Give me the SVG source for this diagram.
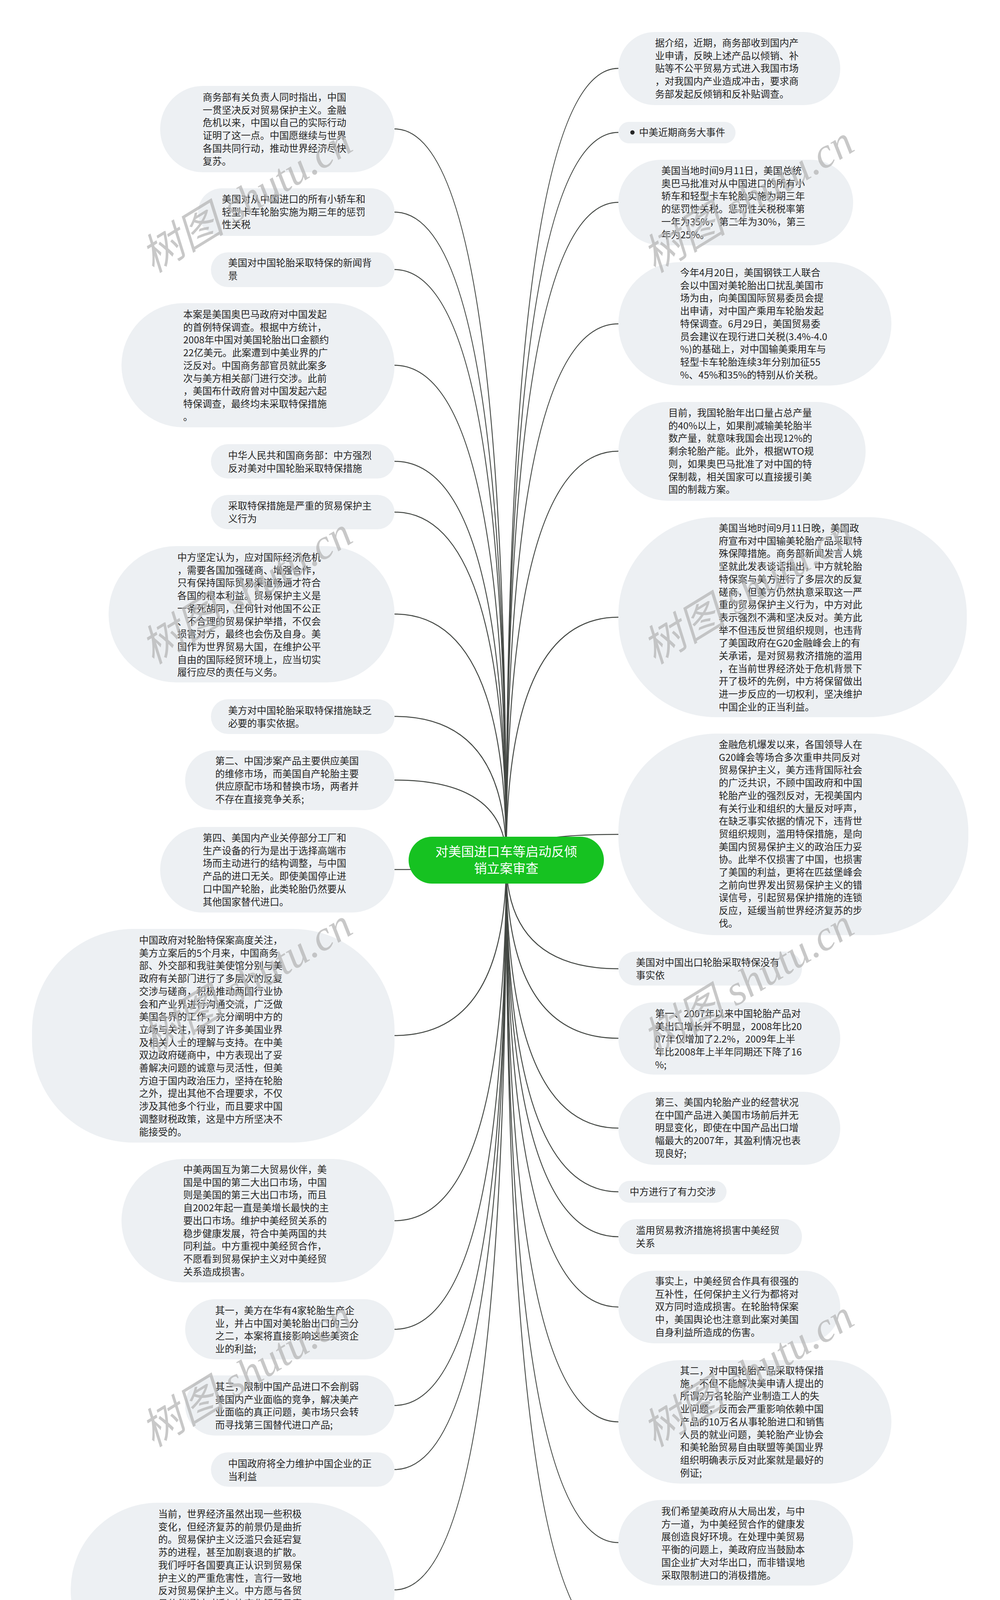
<svg xmlns="http://www.w3.org/2000/svg" width="2560" height="4404" viewBox="0 0 2560 4404">
<style>
.bg{fill:#ffffff}
.box{fill:#edf0f3}
.t{font-family:"Noto Sans CJK SC","Liberation Sans",sans-serif;font-size:24.5px;fill:#262626}
.c{fill:none;stroke:#444844;stroke-width:2.5}
.root{fill:#16c221}
.rt{font-family:"Noto Sans CJK SC","Liberation Sans",sans-serif;font-size:33px;fill:#ffffff;text-anchor:middle}
.wm{font-family:"Liberation Serif","Noto Sans CJK SC",serif;font-style:italic;font-size:108px;fill:#b0b0b0;fill-opacity:0.7}
</style>
<rect class="bg" x="0" y="0" width="2560" height="4404"/>
<g id="connectors">
<path class="c" d="M1296,2202 Q1296,330 1010,330"/>
<path class="c" d="M1296,2202 Q1296,543 1010,543"/>
<path class="c" d="M1296,2202 Q1296,690 1010,690"/>
<path class="c" d="M1296,2202 Q1296,935 1010,935"/>
<path class="c" d="M1296,2202 Q1296,1181 1010,1181"/>
<path class="c" d="M1296,2202 Q1296,1311 1010,1311"/>
<path class="c" d="M1296,2202 Q1296,1572 1010,1572"/>
<path class="c" d="M1296,2202 Q1296,1834 1010,1834"/>
<path class="c" d="M1296,2202 Q1296,1997 1010,1997"/>
<path class="c" d="M1296,2202 Q1296,2226 1010,2226"/>
<path class="c" d="M1296,2202 Q1296,2651 1010,2651"/>
<path class="c" d="M1296,2202 Q1296,3125 1010,3125"/>
<path class="c" d="M1296,2202 Q1296,3403 1010,3403"/>
<path class="c" d="M1296,2202 Q1296,3598 1010,3598"/>
<path class="c" d="M1296,2202 Q1296,3762 1010,3762"/>
<path class="c" d="M1296,2202 Q1296,4070 1010,4070"/>
<path class="c" d="M1296,2202 Q1296,175 1583,175"/>
<path class="c" d="M1296,2202 Q1296,339 1583,339"/>
<path class="c" d="M1296,2202 Q1296,518 1583,518"/>
<path class="c" d="M1296,2202 Q1296,829 1583,829"/>
<path class="c" d="M1296,2202 Q1296,1155 1583,1155"/>
<path class="c" d="M1296,2202 Q1296,1580 1583,1580"/>
<path class="c" d="M1296,2202 Q1296,2136 1583,2136"/>
<path class="c" d="M1296,2202 Q1296,2480 1583,2480"/>
<path class="c" d="M1296,2202 Q1296,2658 1583,2658"/>
<path class="c" d="M1296,2202 Q1296,2888 1583,2888"/>
<path class="c" d="M1296,2202 Q1296,3051 1583,3051"/>
<path class="c" d="M1296,2202 Q1296,3166 1583,3166"/>
<path class="c" d="M1296,2202 Q1296,3346 1583,3346"/>
<path class="c" d="M1296,2202 Q1296,3640 1583,3640"/>
<path class="c" d="M1296,2202 Q1296,3949 1583,3949"/>
<path class="c" d="M1296,2202 Q1296,4211 1583,4211"/>
</g>
<g id="root">
<rect class="root" x="1046" y="2142" width="500" height="120" rx="60"/>
<text class="rt" x="1296" y="2192">对美国进口车等启动反倾</text>
<text class="rt" x="1296" y="2235">销立案审查</text>
</g>
<g id="L1"><rect class="box" x="410" y="220" width="600" height="221" rx="110"/>
<text class="t"><tspan x="519" y="258">商务部有关负责人同时指出，中国</tspan><tspan x="519" y="290.7">一贯坚决反对贸易保护主义。金融</tspan><tspan x="519" y="323.4">危机以来，中国以自己的实际行动</tspan><tspan x="519" y="356.1">证明了这一点。中国愿继续与世界</tspan><tspan x="519" y="388.8">各国共同行动，推动世界经济尽快</tspan><tspan x="519" y="421.5">复苏。</tspan></text></g>
<g id="L2"><rect class="box" x="507" y="482" width="503" height="122" rx="61"/>
<text class="t"><tspan x="568" y="519">美国对从中国进口的所有小轿车和</tspan><tspan x="568" y="551.7">轻型卡车轮胎实施为期三年的惩罚</tspan><tspan x="568" y="584.4">性关税</tspan></text></g>
<g id="L3"><rect class="box" x="540" y="646" width="470" height="89" rx="44"/>
<text class="t"><tspan x="584" y="682">美国对中国轮胎采取特保的新闻背</tspan><tspan x="584" y="714.7">景</tspan></text></g>
<g id="L4"><rect class="box" x="311" y="776" width="699" height="318" rx="159"/>
<text class="t"><tspan x="469" y="814">本案是美国奥巴马政府对中国发起</tspan><tspan x="469" y="846.7">的首例特保调查。根据中方统计，</tspan><tspan x="469" y="879.4">2008年中国对美国轮胎出口金额约</tspan><tspan x="469" y="912.1">22亿美元。此案遭到中美业界的广</tspan><tspan x="469" y="944.8">泛反对。中国商务部官员就此案多</tspan><tspan x="469" y="977.5">次与美方相关部门进行交涉。此前</tspan><tspan x="469" y="1010.2">，美国布什政府曾对中国发起六起</tspan><tspan x="469" y="1042.9">特保调查，最终均未采取特保措施</tspan><tspan x="469" y="1075.6">。</tspan></text></g>
<g id="L5"><rect class="box" x="540" y="1137" width="470" height="88" rx="44"/>
<text class="t"><tspan x="584" y="1175">中华人民共和国商务部：中方强烈</tspan><tspan x="584" y="1207.7">反对美对中国轮胎采取特保措施</tspan></text></g>
<g id="L6"><rect class="box" x="540" y="1267" width="470" height="88" rx="44"/>
<text class="t"><tspan x="584" y="1304">采取特保措施是严重的贸易保护主</tspan><tspan x="584" y="1336.7">义行为</tspan></text></g>
<g id="L7"><rect class="box" x="278" y="1398" width="732" height="349" rx="174"/>
<text class="t"><tspan x="454" y="1436">中方坚定认为，应对国际经济危机</tspan><tspan x="454" y="1468.7">，需要各国加强磋商、增强合作，</tspan><tspan x="454" y="1501.4">只有保持国际贸易渠道畅通才符合</tspan><tspan x="454" y="1534.1">各国的根本利益。贸易保护主义是</tspan><tspan x="454" y="1566.8">一条死胡同，任何针对他国不公正</tspan><tspan x="454" y="1599.5">、不合理的贸易保护举措，不仅会</tspan><tspan x="454" y="1632.2">损害对方，最终也会伤及自身。美</tspan><tspan x="454" y="1664.9">国作为世界贸易大国，在维护公平</tspan><tspan x="454" y="1697.6">自由的国际经贸环境上，应当切实</tspan><tspan x="454" y="1730.3">履行应尽的责任与义务。</tspan></text></g>
<g id="L8"><rect class="box" x="540" y="1790" width="470" height="89" rx="44"/>
<text class="t"><tspan x="584" y="1828">美方对中国轮胎采取特保措施缺乏</tspan><tspan x="584" y="1860.7">必要的事实依据。</tspan></text></g>
<g id="L9"><rect class="box" x="474" y="1921" width="536" height="153" rx="76"/>
<text class="t"><tspan x="551" y="1957">第二、中国涉案产品主要供应美国</tspan><tspan x="551" y="1989.7">的维修市场，而美国自产轮胎主要</tspan><tspan x="551" y="2022.4">供应原配市场和替换市场，两者并</tspan><tspan x="551" y="2055.1">不存在直接竞争关系;</tspan></text></g>
<g id="L10"><rect class="box" x="410" y="2117" width="600" height="219" rx="109"/>
<text class="t"><tspan x="519" y="2154">第四、美国内产业关停部分工厂和</tspan><tspan x="519" y="2186.7">生产设备的行为是出于选择高端市</tspan><tspan x="519" y="2219.4">场而主动进行的结构调整，与中国</tspan><tspan x="519" y="2252.1">产品的进口无关。即使美国停止进</tspan><tspan x="519" y="2284.8">口中国产轮胎，此类轮胎仍然要从</tspan><tspan x="519" y="2317.5">其他国家替代进口。</tspan></text></g>
<g id="L11"><rect class="box" x="82" y="2378" width="928" height="547" rx="260"/>
<text class="t"><tspan x="356" y="2416">中国政府对轮胎特保案高度关注，</tspan><tspan x="356" y="2448.7">美方立案后的5个月来，中国商务</tspan><tspan x="356" y="2481.4">部、外交部和我驻美使馆分别与美</tspan><tspan x="356" y="2514.1">政府有关部门进行了多层次的反复</tspan><tspan x="356" y="2546.8">交涉与磋商，积极推动两国行业协</tspan><tspan x="356" y="2579.5">会和产业界进行沟通交流，广泛做</tspan><tspan x="356" y="2612.2">美国各界的工作，充分阐明中方的</tspan><tspan x="356" y="2644.9">立场与关注，得到了许多美国业界</tspan><tspan x="356" y="2677.6">及相关人士的理解与支持。在中美</tspan><tspan x="356" y="2710.3">双边政府磋商中，中方表现出了妥</tspan><tspan x="356" y="2743">善解决问题的诚意与灵活性，但美</tspan><tspan x="356" y="2775.7">方迫于国内政治压力，坚持在轮胎</tspan><tspan x="356" y="2808.4">之外，提出其他不合理要求，不仅</tspan><tspan x="356" y="2841.1">涉及其他多个行业，而且要求中国</tspan><tspan x="356" y="2873.8">调整财税政策，这是中方所坚决不</tspan><tspan x="356" y="2906.5">能接受的。</tspan></text></g>
<g id="L12"><rect class="box" x="311" y="2967" width="699" height="316" rx="158"/>
<text class="t"><tspan x="469" y="3003">中美两国互为第二大贸易伙伴，美</tspan><tspan x="469" y="3035.7">国是中国的第二大出口市场，中国</tspan><tspan x="469" y="3068.4">则是美国的第三大出口市场，而且</tspan><tspan x="469" y="3101.1">自2002年起一直是美增长最快的主</tspan><tspan x="469" y="3133.8">要出口市场。维护中美经贸关系的</tspan><tspan x="469" y="3166.5">稳步健康发展，符合中美两国的共</tspan><tspan x="469" y="3199.2">同利益。中方重视中美经贸合作，</tspan><tspan x="469" y="3231.9">不愿看到贸易保护主义对中美经贸</tspan><tspan x="469" y="3264.6">关系造成损害。</tspan></text></g>
<g id="L13"><rect class="box" x="474" y="3326" width="536" height="154" rx="77"/>
<text class="t"><tspan x="551" y="3364">其一，美方在华有4家轮胎生产企</tspan><tspan x="551" y="3396.7">业，并占中国对美轮胎出口的三分</tspan><tspan x="551" y="3429.4">之二，本案将直接影响这些美资企</tspan><tspan x="551" y="3462.1">业的利益;</tspan></text></g>
<g id="L14"><rect class="box" x="474" y="3521" width="536" height="154" rx="77"/>
<text class="t"><tspan x="551" y="3559">其三，限制中国产品进口不会削弱</tspan><tspan x="551" y="3591.7">美国内产业面临的竞争，解决美产</tspan><tspan x="551" y="3624.4">业面临的真正问题，美市场只会转</tspan><tspan x="551" y="3657.1">而寻找第三国替代进口产品;</tspan></text></g>
<g id="L15"><rect class="box" x="540" y="3718" width="470" height="88" rx="44"/>
<text class="t"><tspan x="584" y="3756">中国政府将全力维护中国企业的正</tspan><tspan x="584" y="3788.7">当利益</tspan></text></g>
<g id="L16"><rect class="box" x="181" y="3847" width="829" height="447" rx="223"/>
<text class="t"><tspan x="405" y="3885">当前，世界经济虽然出现一些积极</tspan><tspan x="405" y="3917.7">变化，但经济复苏的前景仍是曲折</tspan><tspan x="405" y="3950.4">的。贸易保护主义泛滥只会延宕复</tspan><tspan x="405" y="3983.1">苏的进程，甚至加剧衰退的扩散。</tspan><tspan x="405" y="4015.8">我们呼吁各国要真正认识到贸易保</tspan><tspan x="405" y="4048.5">护主义的严重危害性，言行一致地</tspan><tspan x="405" y="4081.2">反对贸易保护主义。中方愿与各贸</tspan><tspan x="405" y="4113.9">易伙伴通过对话与协商化解贸易摩</tspan><tspan x="405" y="4146.6">擦，共同维护良好的国际经贸环境</tspan><tspan x="405" y="4179.3">。同时，中国也将进一步加强贸易</tspan><tspan x="405" y="4212">预警，完善应对机制，积极支持行</tspan><tspan x="405" y="4244.7">业协会和广大企业提高应对贸易摩</tspan><tspan x="405" y="4277.4">擦的能力。</tspan></text></g>
<g id="R1"><rect class="box" x="1583" y="82" width="568" height="187" rx="93"/>
<text class="t"><tspan x="1677" y="119">据介绍，近期，商务部收到国内产</tspan><tspan x="1677" y="151.7">业申请，反映上述产品以倾销、补</tspan><tspan x="1677" y="184.4">贴等不公平贸易方式进入我国市场</tspan><tspan x="1677" y="217.1">，对我国内产业造成冲击，要求商</tspan><tspan x="1677" y="249.8">务部发起反倾销和反补贴调查。</tspan></text></g>
<g id="R2"><rect class="box" x="1583" y="312" width="300" height="55" rx="27.5"/>
<circle cx="1619" cy="339" r="5.5" fill="#262626"/>
<text class="t" x="1636" y="348">中美近期商务大事件</text></g>
<g id="R3"><rect class="box" x="1583" y="409" width="601" height="219" rx="109"/>
<text class="t"><tspan x="1693" y="446">美国当地时间9月11日，美国总统</tspan><tspan x="1693" y="478.7">奥巴马批准对从中国进口的所有小</tspan><tspan x="1693" y="511.4">轿车和轻型卡车轮胎实施为期三年</tspan><tspan x="1693" y="544.1">的惩罚性关税。惩罚性关税税率第</tspan><tspan x="1693" y="576.8">一年为35%，第二年为30%，第三</tspan><tspan x="1693" y="609.5">年为25%。</tspan></text></g>
<g id="R4"><rect class="box" x="1583" y="671" width="699" height="316" rx="158"/>
<text class="t"><tspan x="1741" y="707">今年4月20日，美国钢铁工人联合</tspan><tspan x="1741" y="739.7">会以中国对美轮胎出口扰乱美国市</tspan><tspan x="1741" y="772.4">场为由，向美国国际贸易委员会提</tspan><tspan x="1741" y="805.1">出申请，对中国产乘用车轮胎发起</tspan><tspan x="1741" y="837.8">特保调查。6月29日，美国贸易委</tspan><tspan x="1741" y="870.5">员会建议在现行进口关税(3.4%-4.0</tspan><tspan x="1741" y="903.2">%)的基础上，对中国输美乘用车与</tspan><tspan x="1741" y="935.9">轻型卡车轮胎连续3年分别加征55</tspan><tspan x="1741" y="968.6">%、45%和35%的特别从价关税。</tspan></text></g>
<g id="R5"><rect class="box" x="1583" y="1029" width="633" height="253" rx="126"/>
<text class="t"><tspan x="1711" y="1066">目前，我国轮胎年出口量占总产量</tspan><tspan x="1711" y="1098.7">的40%以上，如果削减输美轮胎半</tspan><tspan x="1711" y="1131.4">数产量，就意味我国会出现12%的</tspan><tspan x="1711" y="1164.1">剩余轮胎产能。此外，根据WTO规</tspan><tspan x="1711" y="1196.8">则，如果奥巴马批准了对中国的特</tspan><tspan x="1711" y="1229.5">保制裁，相关国家可以直接援引美</tspan><tspan x="1711" y="1262.2">国的制裁方案。</tspan></text></g>
<g id="R6"><rect class="box" x="1583" y="1324" width="892" height="512" rx="250"/>
<text class="t"><tspan x="1840" y="1361">美国当地时间9月11日晚，美国政</tspan><tspan x="1840" y="1393.7">府宣布对中国输美轮胎产品采取特</tspan><tspan x="1840" y="1426.4">殊保障措施。商务部新闻发言人姚</tspan><tspan x="1840" y="1459.1">坚就此发表谈话指出，中方就轮胎</tspan><tspan x="1840" y="1491.8">特保案与美方进行了多层次的反复</tspan><tspan x="1840" y="1524.5">磋商，但美方仍然执意采取这一严</tspan><tspan x="1840" y="1557.2">重的贸易保护主义行为，中方对此</tspan><tspan x="1840" y="1589.9">表示强烈不满和坚决反对。美方此</tspan><tspan x="1840" y="1622.6">举不但违反世贸组织规则，也违背</tspan><tspan x="1840" y="1655.3">了美国政府在G20金融峰会上的有</tspan><tspan x="1840" y="1688">关承诺，是对贸易救济措施的滥用</tspan><tspan x="1840" y="1720.7">，在当前世界经济处于危机背景下</tspan><tspan x="1840" y="1753.4">开了极坏的先例，中方将保留做出</tspan><tspan x="1840" y="1786.1">进一步反应的一切权利，坚决维护</tspan><tspan x="1840" y="1818.8">中国企业的正当利益。</tspan></text></g>
<g id="R7"><rect class="box" x="1583" y="1878" width="896" height="516" rx="252"/>
<text class="t"><tspan x="1840" y="1915">金融危机爆发以来，各国领导人在</tspan><tspan x="1840" y="1947.7">G20峰会等场合多次重申共同反对</tspan><tspan x="1840" y="1980.4">贸易保护主义，美方违背国际社会</tspan><tspan x="1840" y="2013.1">的广泛共识，不顾中国政府和中国</tspan><tspan x="1840" y="2045.8">轮胎产业的强烈反对，无视美国内</tspan><tspan x="1840" y="2078.5">有关行业和组织的大量反对呼声，</tspan><tspan x="1840" y="2111.2">在缺乏事实依据的情况下，违背世</tspan><tspan x="1840" y="2143.9">贸组织规则，滥用特保措施，是向</tspan><tspan x="1840" y="2176.6">美国内贸易保护主义的政治压力妥</tspan><tspan x="1840" y="2209.3">协。此举不仅损害了中国，也损害</tspan><tspan x="1840" y="2242">了美国的利益，更将在匹兹堡峰会</tspan><tspan x="1840" y="2274.7">之前向世界发出贸易保护主义的错</tspan><tspan x="1840" y="2307.4">误信号，引起贸易保护措施的连锁</tspan><tspan x="1840" y="2340.1">反应，延缓当前世界经济复苏的步</tspan><tspan x="1840" y="2372.8">伐。</tspan></text></g>
<g id="R8"><rect class="box" x="1583" y="2436" width="470" height="87" rx="43"/>
<text class="t"><tspan x="1628" y="2473">美国对中国出口轮胎采取特保没有</tspan><tspan x="1628" y="2505.7">事实依</tspan></text></g>
<g id="R9"><rect class="box" x="1583" y="2566" width="568" height="185" rx="92"/>
<text class="t"><tspan x="1677" y="2604">第一、2007年以来中国轮胎产品对</tspan><tspan x="1677" y="2636.7">美出口增长并不明显，2008年比20</tspan><tspan x="1677" y="2669.4">07年仅增加了2.2%，2009年上半</tspan><tspan x="1677" y="2702.1">年比2008年上半年同期还下降了16</tspan><tspan x="1677" y="2734.8">%;</tspan></text></g>
<g id="R10"><rect class="box" x="1583" y="2795" width="568" height="187" rx="93"/>
<text class="t"><tspan x="1677" y="2831">第三、美国内轮胎产业的经营状况</tspan><tspan x="1677" y="2863.7">在中国产品进入美国市场前后并无</tspan><tspan x="1677" y="2896.4">明显变化，即使在中国产品出口增</tspan><tspan x="1677" y="2929.1">幅最大的2007年，其盈利情况也表</tspan><tspan x="1677" y="2961.8">现良好;</tspan></text></g>
<g id="R11"><rect class="box" x="1583" y="3023" width="277" height="56" rx="28"/>
<text class="t" x="1612" y="3060">中方进行了有力交涉</text></g>
<g id="R12"><rect class="box" x="1583" y="3121" width="470" height="90" rx="45"/>
<text class="t"><tspan x="1628" y="3159">滥用贸易救济措施将损害中美经贸</tspan><tspan x="1628" y="3191.7">关系</tspan></text></g>
<g id="R13"><rect class="box" x="1583" y="3253" width="568" height="186" rx="93"/>
<text class="t"><tspan x="1677" y="3289">事实上，中美经贸合作具有很强的</tspan><tspan x="1677" y="3321.7">互补性，任何保护主义行为都将对</tspan><tspan x="1677" y="3354.4">双方同时造成损害。在轮胎特保案</tspan><tspan x="1677" y="3387.1">中，美国舆论也注意到此案对美国</tspan><tspan x="1677" y="3419.8">自身利益所造成的伤害。</tspan></text></g>
<g id="R14"><rect class="box" x="1583" y="3482" width="699" height="316" rx="158"/>
<text class="t"><tspan x="1741" y="3518">其二，对中国轮胎产品采取特保措</tspan><tspan x="1741" y="3550.7">施，不但不能解决美申请人提出的</tspan><tspan x="1741" y="3583.4">所谓2万名轮胎产业制造工人的失</tspan><tspan x="1741" y="3616.1">业问题，反而会严重影响依赖中国</tspan><tspan x="1741" y="3648.8">产品的10万名从事轮胎进口和销售</tspan><tspan x="1741" y="3681.5">人员的就业问题，美轮胎产业协会</tspan><tspan x="1741" y="3714.2">和美轮胎贸易自由联盟等美国业界</tspan><tspan x="1741" y="3746.9">组织明确表示反对此案就是最好的</tspan><tspan x="1741" y="3779.6">例证;</tspan></text></g>
<g id="R15"><rect class="box" x="1583" y="3840" width="601" height="219" rx="109"/>
<text class="t"><tspan x="1693" y="3878">我们希望美政府从大局出发，与中</tspan><tspan x="1693" y="3910.7">方一道，为中美经贸合作的健康发</tspan><tspan x="1693" y="3943.4">展创造良好环境。在处理中美贸易</tspan><tspan x="1693" y="3976.1">平衡的问题上，美政府应当鼓励本</tspan><tspan x="1693" y="4008.8">国企业扩大对华出口，而非错误地</tspan><tspan x="1693" y="4041.5">采取限制进口的消极措施。</tspan></text></g>
<g id="R16"><rect class="box" x="1583" y="4101" width="601" height="220" rx="110"/>
<text class="t"><tspan x="1693" y="4140">中国政府将继续采取必要的措施，</tspan><tspan x="1693" y="4172.7">支持轮胎产业应对特保案对产业发</tspan><tspan x="1693" y="4205.4">展带来的负面影响。同时，对美方</tspan><tspan x="1693" y="4238.1">的贸易保护主义行为，中方将保留</tspan><tspan x="1693" y="4270.8">包括诉诸世贸组织在内的一切正当</tspan><tspan x="1693" y="4303.5">权利。</tspan></text></g>
<g id="watermark">
<text class="wm" x="392" y="700" transform="rotate(-31.5 392 700)">树图 shutu.cn</text>
<text class="wm" x="392" y="1702" transform="rotate(-31.5 392 1702)">树图 shutu.cn</text>
<text class="wm" x="392" y="2704" transform="rotate(-31.5 392 2704)">树图 shutu.cn</text>
<text class="wm" x="392" y="3706" transform="rotate(-31.5 392 3706)">树图 shutu.cn</text>
<text class="wm" x="1676" y="700" transform="rotate(-31.5 1676 700)">树图 shutu.cn</text>
<text class="wm" x="1676" y="1702" transform="rotate(-31.5 1676 1702)">树图 shutu.cn</text>
<text class="wm" x="1676" y="2704" transform="rotate(-31.5 1676 2704)">树图 shutu.cn</text>
<text class="wm" x="1676" y="3706" transform="rotate(-31.5 1676 3706)">树图 shutu.cn</text>
</g>
</svg>
